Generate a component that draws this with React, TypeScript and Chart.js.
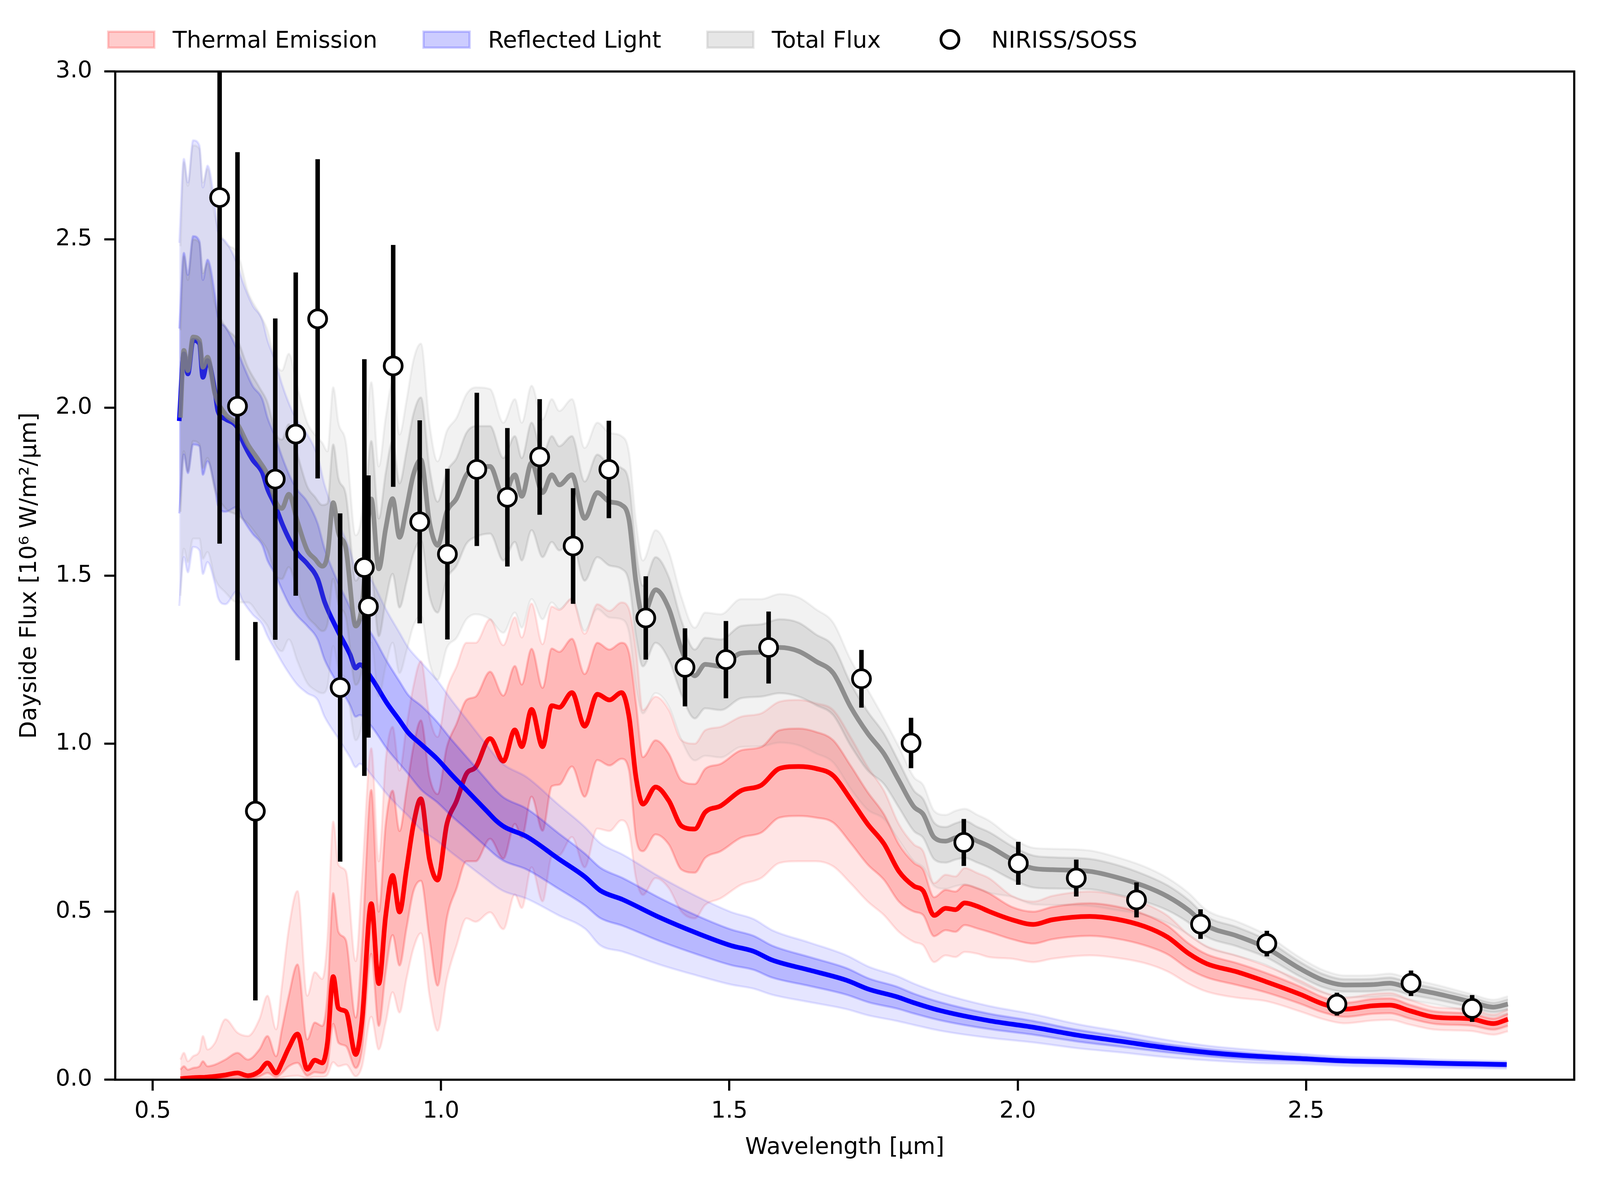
import React, { useEffect, useRef } from 'react';
import Chart from 'chart.js/auto';

// wavelength grid of the thermal and total models [um]
const WAVE = [
  0.548, 0.554, 0.561, 0.570, 0.581, 0.587, 0.595, 0.608, 0.626, 0.647,
  0.665, 0.685, 0.699, 0.714, 0.724, 0.736, 0.751, 0.768, 0.781, 0.794,
  0.803, 0.813, 0.822, 0.835, 0.852, 0.863, 0.879, 0.892, 0.904, 0.916,
  0.928, 0.940, 0.952, 0.965, 0.980, 0.994, 1.010, 1.027, 1.044, 1.060,
  1.085, 1.108, 1.128, 1.140, 1.157, 1.176, 1.192, 1.205, 1.227, 1.249,
  1.271, 1.292, 1.313, 1.326, 1.338, 1.350, 1.372, 1.395, 1.417, 1.440,
  1.458, 1.485, 1.520, 1.555, 1.587, 1.620, 1.650, 1.680, 1.710, 1.740,
  1.768, 1.794, 1.820, 1.836, 1.855, 1.875, 1.892, 1.908, 1.930, 1.950,
  1.990, 2.027, 2.060, 2.125, 2.170, 2.220, 2.260, 2.296, 2.328, 2.380,
  2.430, 2.490, 2.530, 2.568, 2.615, 2.645, 2.680, 2.724, 2.786, 2.825,
  2.850,
];

const THERMAL = [
  0.003, 0.004, 0.005, 0.006, 0.007, 0.007, 0.008, 0.010, 0.014, 0.020,
  0.012, 0.025, 0.050, 0.020, 0.050, 0.095, 0.136, 0.031, 0.058, 0.050,
  0.110, 0.307, 0.213, 0.203, 0.075, 0.177, 0.524, 0.286, 0.488, 0.608,
  0.499, 0.625, 0.758, 0.836, 0.655, 0.594, 0.760, 0.830, 0.910, 0.930,
  1.015, 0.948, 1.041, 0.991, 1.102, 0.991, 1.113, 1.108, 1.152, 1.052,
  1.147, 1.130, 1.152, 1.080, 0.900, 0.820, 0.871, 0.830, 0.755, 0.746,
  0.796, 0.815, 0.860, 0.876, 0.926, 0.932, 0.926, 0.905, 0.835, 0.760,
  0.702, 0.620, 0.576, 0.562, 0.489, 0.510, 0.506, 0.526, 0.516, 0.501,
  0.476, 0.462, 0.476, 0.486, 0.478, 0.456, 0.424, 0.376, 0.345, 0.321,
  0.292, 0.254, 0.225, 0.210, 0.220, 0.222, 0.205, 0.186, 0.181, 0.167,
  0.180,
];
const THERMAL_LO2 = [
  0.000, 0.000, 0.000, 0.000, 0.000, 0.000, 0.000, 0.001, 0.001, 0.002,
  0.002, 0.003, 0.006, 0.003, 0.006, 0.010, 0.012, 0.004, 0.008, 0.008,
  0.015, 0.052, 0.040, 0.045, 0.010, 0.040, 0.187, 0.090, 0.170, 0.260,
  0.200, 0.300, 0.390, 0.436, 0.250, 0.146, 0.300, 0.400, 0.480, 0.470,
  0.498, 0.448, 0.551, 0.511, 0.632, 0.531, 0.663, 0.668, 0.722, 0.632,
  0.747, 0.740, 0.772, 0.740, 0.600, 0.550, 0.600, 0.570, 0.500, 0.480,
  0.520, 0.540, 0.580, 0.600, 0.645, 0.650, 0.650, 0.635, 0.585, 0.530,
  0.490, 0.440, 0.410, 0.400, 0.350, 0.370, 0.365, 0.380, 0.375, 0.365,
  0.360, 0.350, 0.360, 0.370, 0.363, 0.347, 0.322, 0.286, 0.262, 0.244,
  0.234, 0.203, 0.180, 0.168, 0.176, 0.178, 0.164, 0.149, 0.145, 0.134,
  0.144,
];
const THERMAL_LO1 = [
  0.001, 0.001, 0.001, 0.002, 0.002, 0.002, 0.002, 0.003, 0.004, 0.006,
  0.005, 0.010, 0.020, 0.008, 0.020, 0.040, 0.050, 0.012, 0.022, 0.020,
  0.040, 0.166, 0.110, 0.100, 0.035, 0.090, 0.374, 0.160, 0.320, 0.430,
  0.340, 0.450, 0.560, 0.592, 0.420, 0.280, 0.480, 0.570, 0.650, 0.650,
  0.717, 0.658, 0.761, 0.721, 0.842, 0.741, 0.873, 0.878, 0.932, 0.842,
  0.951, 0.935, 0.955, 0.920, 0.720, 0.680, 0.730, 0.700, 0.625, 0.616,
  0.660, 0.680, 0.720, 0.735, 0.780, 0.785, 0.780, 0.765, 0.705, 0.640,
  0.595, 0.530, 0.500, 0.490, 0.427, 0.445, 0.440, 0.460, 0.450, 0.440,
  0.418, 0.405, 0.418, 0.428, 0.420, 0.400, 0.373, 0.330, 0.304, 0.282,
  0.260, 0.226, 0.200, 0.187, 0.196, 0.198, 0.182, 0.166, 0.161, 0.149,
  0.160,
];
const THERMAL_HI1 = [
  0.030, 0.040, 0.030, 0.035, 0.040, 0.055, 0.040, 0.045, 0.060, 0.080,
  0.060, 0.090, 0.130, 0.070, 0.150, 0.250, 0.343, 0.120, 0.170, 0.160,
  0.250, 0.555, 0.440, 0.415, 0.185, 0.400, 0.862, 0.500, 0.760, 0.860,
  0.740, 0.860, 0.990, 1.069, 0.900, 0.850, 0.990, 1.060, 1.130, 1.140,
  1.214, 1.143, 1.231, 1.176, 1.282, 1.166, 1.283, 1.273, 1.312, 1.207,
  1.300, 1.280, 1.300, 1.270, 1.120, 0.960, 1.010, 0.970, 0.890, 0.880,
  0.925, 0.940, 0.980, 0.990, 1.040, 1.045, 1.035, 1.010, 0.935, 0.855,
  0.790, 0.700, 0.645, 0.625, 0.543, 0.565, 0.560, 0.580, 0.570, 0.555,
  0.514, 0.500, 0.514, 0.525, 0.516, 0.492, 0.458, 0.406, 0.373, 0.347,
  0.318, 0.277, 0.245, 0.229, 0.240, 0.242, 0.223, 0.203, 0.197, 0.182,
  0.196,
];
const THERMAL_HI2 = [
  0.060, 0.080, 0.055, 0.070, 0.085, 0.130, 0.090, 0.110, 0.180, 0.140,
  0.130, 0.180, 0.250, 0.150, 0.280, 0.450, 0.561, 0.250, 0.320, 0.300,
  0.420, 0.768, 0.640, 0.620, 0.353, 0.600, 0.986, 0.650, 0.950, 1.050,
  0.920, 1.050, 1.170, 1.245, 1.080, 1.020, 1.160, 1.230, 1.300, 1.300,
  1.370, 1.293, 1.376, 1.316, 1.417, 1.296, 1.408, 1.398, 1.432, 1.327,
  1.415, 1.395, 1.420, 1.400, 1.280, 1.100, 1.140, 1.100, 1.010, 1.000,
  1.040, 1.050, 1.080, 1.090, 1.125, 1.130, 1.120, 1.100, 1.020, 0.930,
  0.860, 0.760, 0.700, 0.680, 0.585, 0.610, 0.605, 0.630, 0.615, 0.600,
  0.547, 0.530, 0.547, 0.560, 0.550, 0.524, 0.488, 0.432, 0.397, 0.369,
  0.339, 0.295, 0.261, 0.244, 0.255, 0.258, 0.238, 0.216, 0.210, 0.194,
  0.209,
];

const TOTAL = [
  1.970, 2.170, 2.110, 2.210, 2.200, 2.120, 2.150, 2.040, 1.980, 1.950,
  1.890, 1.840, 1.800, 1.717, 1.700, 1.742, 1.660, 1.575, 1.550, 1.528,
  1.560, 1.717, 1.628, 1.580, 1.350, 1.410, 1.728, 1.520, 1.640, 1.729,
  1.614, 1.700, 1.800, 1.845, 1.658, 1.590, 1.690, 1.730, 1.800, 1.820,
  1.825, 1.736, 1.800, 1.736, 1.836, 1.747, 1.800, 1.770, 1.800, 1.670,
  1.747, 1.720, 1.710, 1.665, 1.480, 1.380, 1.458, 1.402, 1.280, 1.202,
  1.236, 1.230, 1.269, 1.272, 1.286, 1.275, 1.245, 1.210, 1.110, 1.030,
  0.970, 0.890, 0.812, 0.790, 0.721, 0.710, 0.720, 0.726, 0.710, 0.695,
  0.655, 0.629, 0.625, 0.620, 0.603, 0.576, 0.545, 0.505, 0.458, 0.428,
  0.393, 0.330, 0.296, 0.282, 0.283, 0.287, 0.272, 0.257, 0.232, 0.216,
  0.225,
];
const TOTAL_LO2 = [
  1.440, 1.580, 1.540, 1.610, 1.610, 1.550, 1.570, 1.490, 1.450, 1.420,
  1.420, 1.380, 1.350, 1.290, 1.275, 1.310, 1.245, 1.180, 1.160, 1.150,
  1.170, 1.290, 1.220, 1.185, 1.010, 1.060, 1.300, 1.140, 1.230, 1.300,
  1.210, 1.275, 1.350, 1.380, 1.240, 1.190, 1.285, 1.315, 1.370, 1.385,
  1.370, 1.330, 1.390, 1.345, 1.430, 1.370, 1.420, 1.400, 1.430, 1.335,
  1.400, 1.375, 1.370, 1.330, 1.170, 1.090, 1.150, 1.110, 1.010, 0.950,
  0.964, 0.959, 0.990, 0.992, 1.003, 0.995, 0.971, 0.944, 0.866, 0.803,
  0.776, 0.712, 0.650, 0.632, 0.577, 0.568, 0.576, 0.581, 0.568, 0.556,
  0.544, 0.522, 0.520, 0.517, 0.505, 0.490, 0.466, 0.432, 0.394, 0.368,
  0.342, 0.287, 0.258, 0.245, 0.246, 0.250, 0.237, 0.224, 0.202, 0.188,
  0.196,
];
const TOTAL_LO1 = [
  1.690, 1.870, 1.810, 1.900, 1.890, 1.820, 1.850, 1.755, 1.700, 1.680,
  1.655, 1.610, 1.575, 1.500, 1.490, 1.525, 1.455, 1.380, 1.355, 1.335,
  1.355, 1.490, 1.415, 1.375, 1.175, 1.225, 1.500, 1.320, 1.425, 1.505,
  1.405, 1.480, 1.565, 1.605, 1.440, 1.390, 1.490, 1.530, 1.595, 1.615,
  1.625, 1.545, 1.600, 1.545, 1.635, 1.555, 1.600, 1.575, 1.600, 1.485,
  1.555, 1.530, 1.520, 1.480, 1.320, 1.230, 1.300, 1.250, 1.145, 1.075,
  1.105, 1.100, 1.135, 1.140, 1.150, 1.140, 1.115, 1.085, 0.995, 0.920,
  0.880, 0.810, 0.740, 0.720, 0.656, 0.646, 0.655, 0.660, 0.646, 0.632,
  0.596, 0.572, 0.569, 0.567, 0.552, 0.530, 0.504, 0.468, 0.425, 0.397,
  0.365, 0.307, 0.275, 0.262, 0.263, 0.267, 0.253, 0.239, 0.216, 0.201,
  0.209,
];
const TOTAL_HI1 = [
  2.230, 2.450, 2.380, 2.500, 2.490, 2.400, 2.430, 2.310, 2.240, 2.200,
  2.120, 2.060, 2.015, 1.920, 1.905, 1.950, 1.860, 1.765, 1.735, 1.710,
  1.715, 1.890, 1.790, 1.740, 1.485, 1.550, 1.900, 1.670, 1.805, 1.900,
  1.775, 1.870, 1.980, 2.030, 1.820, 1.720, 1.810, 1.850, 1.925, 1.945,
  1.945, 1.850, 1.915, 1.850, 1.955, 1.860, 1.915, 1.885, 1.915, 1.780,
  1.860, 1.830, 1.820, 1.775, 1.575, 1.470, 1.555, 1.495, 1.365, 1.280,
  1.315, 1.310, 1.350, 1.355, 1.370, 1.360, 1.325, 1.290, 1.180, 1.095,
  1.030, 0.945, 0.860, 0.835, 0.765, 0.752, 0.763, 0.770, 0.752, 0.737,
  0.695, 0.667, 0.662, 0.657, 0.640, 0.610, 0.578, 0.535, 0.485, 0.454,
  0.417, 0.350, 0.314, 0.299, 0.300, 0.304, 0.288, 0.272, 0.246, 0.229,
  0.239,
];
const TOTAL_HI2 = [
  2.480, 2.730, 2.660, 2.780, 2.770, 2.670, 2.710, 2.570, 2.490, 2.460,
  2.345, 2.280, 2.230, 2.130, 2.110, 2.160, 2.060, 1.955, 1.920, 1.895,
  1.870, 2.060, 1.955, 1.895, 1.620, 1.690, 2.075, 1.825, 1.970, 2.075,
  1.920, 2.020, 2.140, 2.190, 1.950, 1.840, 1.930, 1.970, 2.040, 2.060,
  2.055, 1.955, 2.025, 1.955, 2.065, 1.965, 2.025, 1.990, 2.025, 1.880,
  1.955, 1.925, 1.915, 1.865, 1.660, 1.545, 1.635, 1.570, 1.435, 1.345,
  1.390, 1.385, 1.430, 1.430, 1.445, 1.435, 1.400, 1.360, 1.250, 1.160,
  1.075, 0.990, 0.900, 0.877, 0.800, 0.788, 0.800, 0.806, 0.788, 0.771,
  0.720, 0.690, 0.687, 0.682, 0.663, 0.634, 0.600, 0.556, 0.504, 0.471,
  0.432, 0.363, 0.326, 0.310, 0.311, 0.316, 0.300, 0.283, 0.255, 0.238,
  0.248,
];

// wavelength grid of the reflected-light model [um]
const REFL_WAVE = [
  0.546, 0.554, 0.561, 0.570, 0.581, 0.587, 0.595, 0.608, 0.613, 0.626,
  0.647, 0.656, 0.673, 0.690, 0.699, 0.712, 0.725, 0.738, 0.751, 0.768,
  0.786, 0.798, 0.820, 0.842, 0.852, 0.859, 0.880, 0.906, 0.928, 0.943,
  0.966, 0.993, 1.018, 1.044, 1.079, 1.096, 1.110, 1.148, 1.204, 1.250,
  1.276, 1.315, 1.380, 1.444, 1.503, 1.542, 1.574, 1.639, 1.703, 1.742,
  1.790, 1.820, 1.865, 1.949, 2.027, 2.102, 2.180, 2.257, 2.335, 2.412,
  2.490, 2.568, 2.645, 2.724, 2.790, 2.848,
];
const REFLECTED = [
  1.960, 2.160, 2.100, 2.200, 2.190, 2.090, 2.140, 2.047, 1.990, 1.966,
  1.940, 1.900, 1.845, 1.807, 1.758, 1.710, 1.652, 1.604, 1.566, 1.535,
  1.490, 1.422, 1.339, 1.266, 1.225, 1.235, 1.193, 1.121, 1.069, 1.033,
  0.997, 0.955, 0.908, 0.862, 0.800, 0.770, 0.752, 0.724, 0.657, 0.603,
  0.563, 0.536, 0.482, 0.436, 0.399, 0.382, 0.356, 0.326, 0.296, 0.269,
  0.247, 0.229, 0.206, 0.176, 0.156, 0.133, 0.114, 0.095, 0.080, 0.070,
  0.063, 0.056, 0.053, 0.049, 0.047, 0.045,
];
const REFLECTED_LO2 = [
  1.410, 1.555, 1.510, 1.585, 1.575, 1.505, 1.540, 1.475, 1.435, 1.415,
  1.455, 1.425, 1.385, 1.355, 1.320, 1.280, 1.240, 1.205, 1.175, 1.150,
  1.130, 1.080, 1.020, 0.960, 0.930, 0.940, 0.905, 0.850, 0.810, 0.785,
  0.743, 0.711, 0.676, 0.642, 0.596, 0.574, 0.560, 0.539, 0.489, 0.449,
  0.400, 0.381, 0.342, 0.310, 0.283, 0.271, 0.253, 0.231, 0.210, 0.191,
  0.175, 0.163, 0.146, 0.125, 0.111, 0.094, 0.081, 0.067, 0.057, 0.050,
  0.047, 0.041, 0.039, 0.036, 0.035, 0.033,
];
const REFLECTED_LO1 = [
  1.685, 1.860, 1.805, 1.890, 1.885, 1.800, 1.840, 1.760, 1.710, 1.690,
  1.705, 1.670, 1.625, 1.590, 1.545, 1.505, 1.455, 1.410, 1.380, 1.350,
  1.310, 1.250, 1.180, 1.115, 1.080, 1.085, 1.050, 0.985, 0.940, 0.910,
  0.862, 0.826, 0.785, 0.746, 0.692, 0.666, 0.650, 0.626, 0.568, 0.518,
  0.481, 0.458, 0.412, 0.373, 0.341, 0.327, 0.304, 0.279, 0.253, 0.230,
  0.212, 0.197, 0.177, 0.151, 0.134, 0.114, 0.098, 0.082, 0.069, 0.060,
  0.055, 0.049, 0.046, 0.043, 0.041, 0.039,
];
const REFLECTED_HI1 = [
  2.235, 2.460, 2.395, 2.510, 2.495, 2.380, 2.440, 2.335, 2.270, 2.240,
  2.170, 2.130, 2.065, 2.025, 1.970, 1.915, 1.850, 1.795, 1.755, 1.720,
  1.655, 1.580, 1.485, 1.405, 1.360, 1.370, 1.325, 1.245, 1.185, 1.145,
  1.112, 1.065, 1.012, 0.961, 0.892, 0.859, 0.838, 0.807, 0.733, 0.672,
  0.631, 0.600, 0.540, 0.488, 0.447, 0.428, 0.399, 0.365, 0.332, 0.301,
  0.277, 0.256, 0.231, 0.197, 0.175, 0.149, 0.128, 0.106, 0.090, 0.078,
  0.070, 0.062, 0.059, 0.054, 0.052, 0.050,
];
const REFLECTED_HI2 = [
  2.490, 2.740, 2.670, 2.795, 2.780, 2.655, 2.720, 2.600, 2.525, 2.495,
  2.425, 2.375, 2.305, 2.260, 2.200, 2.140, 2.065, 2.005, 1.960, 1.920,
  1.855, 1.770, 1.667, 1.576, 1.525, 1.538, 1.485, 1.395, 1.330, 1.286,
  1.241, 1.189, 1.130, 1.073, 0.996, 0.959, 0.936, 0.901, 0.818, 0.751,
  0.704, 0.670, 0.603, 0.545, 0.499, 0.478, 0.445, 0.408, 0.370, 0.336,
  0.309, 0.286, 0.258, 0.220, 0.195, 0.166, 0.143, 0.119, 0.100, 0.088,
  0.077, 0.068, 0.065, 0.060, 0.057, 0.055,
];

// NIRISS/SOSS dayside spectrum
const OBS_WAVE = [
  0.616, 0.647, 0.678, 0.7125, 0.748, 0.786, 0.825, 0.867, 0.874, 0.917,
  0.963, 1.011, 1.062, 1.115, 1.171, 1.229, 1.291, 1.355, 1.423, 1.494,
  1.568, 1.729, 1.815, 1.9065, 2.001, 2.1015, 2.206, 2.317, 2.432, 2.5535,
  2.682, 2.788,
];
const OBS_FLUX = [
  2.625, 2.004, 0.799, 1.787, 1.921, 2.264, 1.167, 1.524, 1.408, 2.124,
  1.660, 1.564, 1.816, 1.733, 1.853, 1.588, 1.816, 1.374, 1.227, 1.250,
  1.286, 1.193, 1.002, 0.706, 0.644, 0.600, 0.535, 0.463, 0.405, 0.225,
  0.287, 0.212,
];
const OBS_ERR = [
  1.030, 0.756, 0.563, 0.478, 0.481, 0.475, 0.518, 0.620, 0.390, 0.360,
  0.302, 0.254, 0.228, 0.206, 0.172, 0.172, 0.145, 0.124, 0.116, 0.115,
  0.107, 0.086, 0.075, 0.070, 0.064, 0.055, 0.052, 0.044, 0.038, 0.034,
  0.038, 0.040,
];

const X_TICKS = [0.5, 1.0, 1.5, 2.0, 2.5];
const Y_TICKS = [0, 0.5, 1.0, 1.5, 2.0, 2.5, 3.0];

const FONT = 'DejaVu Sans';
const FS = 59;

const RED_2 = 'rgba(255, 0, 0, 0.1)';
const RED_1 = 'rgba(255, 0, 0, 0.2)';
const BLUE_2 = 'rgba(0, 0, 255, 0.1)';
const BLUE_1 = 'rgba(0, 0, 255, 0.2)';
const GRAY_2 = 'rgba(128, 128, 128, 0.1)';
const GRAY_1 = 'rgba(128, 128, 128, 0.2)';

const LEGEND = [
  { label: 'Thermal Emission', color: RED_1 },
  { label: 'Reflected Light', color: BLUE_1 },
  { label: 'Total Flux', color: GRAY_1 },
  { label: 'NIRISS/SOSS', color: null },
];

const pts = (xs: number[], ys: number[]) => xs.map((x, i) => ({ x, y: ys[i] }));

function buildDatasets() {
  const sets: any[] = [];
  const band = (xs: number[], lo: number[], hi: number[], color: string) => {
    sets.push({ data: pts(xs, lo), borderColor: color, borderWidth: 5.5, fill: false, pointRadius: 0 });
    sets.push({ data: pts(xs, hi), borderColor: color, borderWidth: 5.5, backgroundColor: color, fill: '-1', pointRadius: 0 });
  };
  const curve = (xs: number[], ys: number[], color: string) => {
    sets.push({ data: pts(xs, ys), borderColor: color, borderWidth: 12, fill: false, pointRadius: 0, borderJoinStyle: 'round' });
  };

  band(WAVE, THERMAL_LO2, THERMAL_HI2, RED_2);
  band(WAVE, THERMAL_LO1, THERMAL_HI1, RED_1);
  curve(WAVE, THERMAL, '#ff0000');
  band(REFL_WAVE, REFLECTED_LO2, REFLECTED_HI2, BLUE_2);
  band(REFL_WAVE, REFLECTED_LO1, REFLECTED_HI1, BLUE_1);
  curve(REFL_WAVE, REFLECTED, '#0000ff');
  band(WAVE, TOTAL_LO2, TOTAL_HI2, GRAY_2);
  band(WAVE, TOTAL_LO1, TOTAL_HI1, GRAY_1);
  curve(WAVE, TOTAL, 'rgba(128, 128, 128, 0.85)');

  // error bars: one vertical segment per point, broken by null gaps
  const bars = OBS_WAVE.flatMap((x, i) => [
    { x, y: OBS_FLUX[i] - OBS_ERR[i] },
    { x, y: OBS_FLUX[i] + OBS_ERR[i] },
    { x, y: null },
  ]);
  sets.push({
    data: bars, borderColor: '#000', borderWidth: 11.5, pointRadius: 0, fill: false,
    tension: 0, cubicInterpolationMode: 'default', spanGaps: false, clip: 0,
  });
  sets.push({
    data: pts(OBS_WAVE, OBS_FLUX), showLine: false, pointRadius: 23, pointBorderWidth: 7,
    pointBackgroundColor: '#ffffff', pointBorderColor: '#000000', pointStyle: 'circle', clip: false,
  });

  sets.forEach((s, i) => { s.order = sets.length - i; });
  return sets;
}

const framePlugin = {
  id: 'frame',
  afterDatasetsDraw(chart: any) {
    const { ctx, chartArea: a } = chart;
    ctx.save();
    ctx.strokeStyle = '#000';
    ctx.lineWidth = 5.5;
    ctx.strokeRect(a.left, a.top, a.right - a.left, a.bottom - a.top);
    ctx.restore();
  },
};

const legendPlugin = {
  id: 'topLegend',
  afterDraw(chart: any) {
    const ctx = chart.ctx;
    const cy = 101;
    let x = 277;
    ctx.save();
    ctx.font = `${FS}px "${FONT}"`;
    ctx.textBaseline = 'alphabetic';
    LEGEND.forEach((item) => {
      if (item.color) {
        ctx.fillStyle = item.color;
        ctx.fillRect(x, cy - 20, 118, 41);
        ctx.strokeStyle = item.color;
        ctx.lineWidth = 5.8;
        ctx.strokeRect(x, cy - 20, 118, 41);
      } else {
        ctx.beginPath();
        ctx.arc(x + 59, cy, 23, 0, Math.PI * 2);
        ctx.fillStyle = '#ffffff';
        ctx.fill();
        ctx.lineWidth = 7;
        ctx.strokeStyle = '#000';
        ctx.stroke();
      }
      const tx = x + 118 + 47;
      ctx.fillStyle = '#000';
      ctx.fillText(item.label, tx, cy + 21);
      x = tx + ctx.measureText(item.label).width + 118;
    });
    ctx.restore();
  },
};

const App = () => {
  const canvasRef = useRef<HTMLCanvasElement>(null);
  const chartRef = useRef<Chart | null>(null);

  useEffect(() => {
    if (!canvasRef.current) return;
    if (chartRef.current) chartRef.current.destroy();

    Chart.defaults.font.family = FONT;
    Chart.defaults.color = '#000';

    const tickGrid = {
      display: true, drawOnChartArea: false, drawTicks: true,
      tickLength: 28, lineWidth: 5.5, color: '#000',
    };

    chartRef.current = new Chart(canvasRef.current, {
      type: 'line',
      data: { datasets: buildDatasets() },
      options: {
        animation: false,
        responsive: false,
        devicePixelRatio: 1,
        events: [],
        layout: { padding: { left: 0, right: 170, top: 183, bottom: 0 } },
        elements: { line: { cubicInterpolationMode: 'monotone' }, point: { radius: 0 } },
        plugins: { legend: { display: false }, tooltip: { enabled: false } },
        scales: {
          x: {
            type: 'linear',
            min: 0.435,
            max: 2.965,
            afterBuildTicks: (s: any) => { s.ticks = X_TICKS.map((v) => ({ value: v })); },
            afterFit: (s: any) => { s.height = 290; },
            ticks: {
              callback: (v: any) => Number(v).toFixed(1),
              font: { size: FS }, color: '#000', padding: 18, maxRotation: 0, autoSkip: false,
            },
            grid: tickGrid,
            border: { display: false },
            title: {
              display: true, text: 'Wavelength [μm]', color: '#000',
              font: { size: FS }, padding: { top: 0, bottom: 80 },
            },
          },
          y: {
            type: 'linear',
            min: 0,
            max: 3,
            afterBuildTicks: (s: any) => { s.ticks = Y_TICKS.map((v) => ({ value: v })); },
            afterFit: (s: any) => { s.width = 295; },
            ticks: {
              callback: (v: any) => Number(v).toFixed(1),
              font: { size: FS }, color: '#000', padding: 31, autoSkip: false,
            },
            grid: tickGrid,
            border: { display: false },
            title: {
              display: true, text: 'Dayside Flux [10⁶ W/m²/μm]', color: '#000',
              font: { size: FS }, padding: { top: 41, bottom: 0 },
            },
          },
        },
      },
      plugins: [framePlugin, legendPlugin],
    } as any);

    return () => {
      if (chartRef.current) {
        chartRef.current.destroy();
        chartRef.current = null;
      }
    };
  }, []);

  return (
    <div style={{ position: 'fixed', left: 0, top: 0, width: 4200, height: 3054, background: '#fff' }}>
      <canvas ref={canvasRef} width={4200} height={3054} style={{ display: 'block' }} />
    </div>
  );
};

export default App;
